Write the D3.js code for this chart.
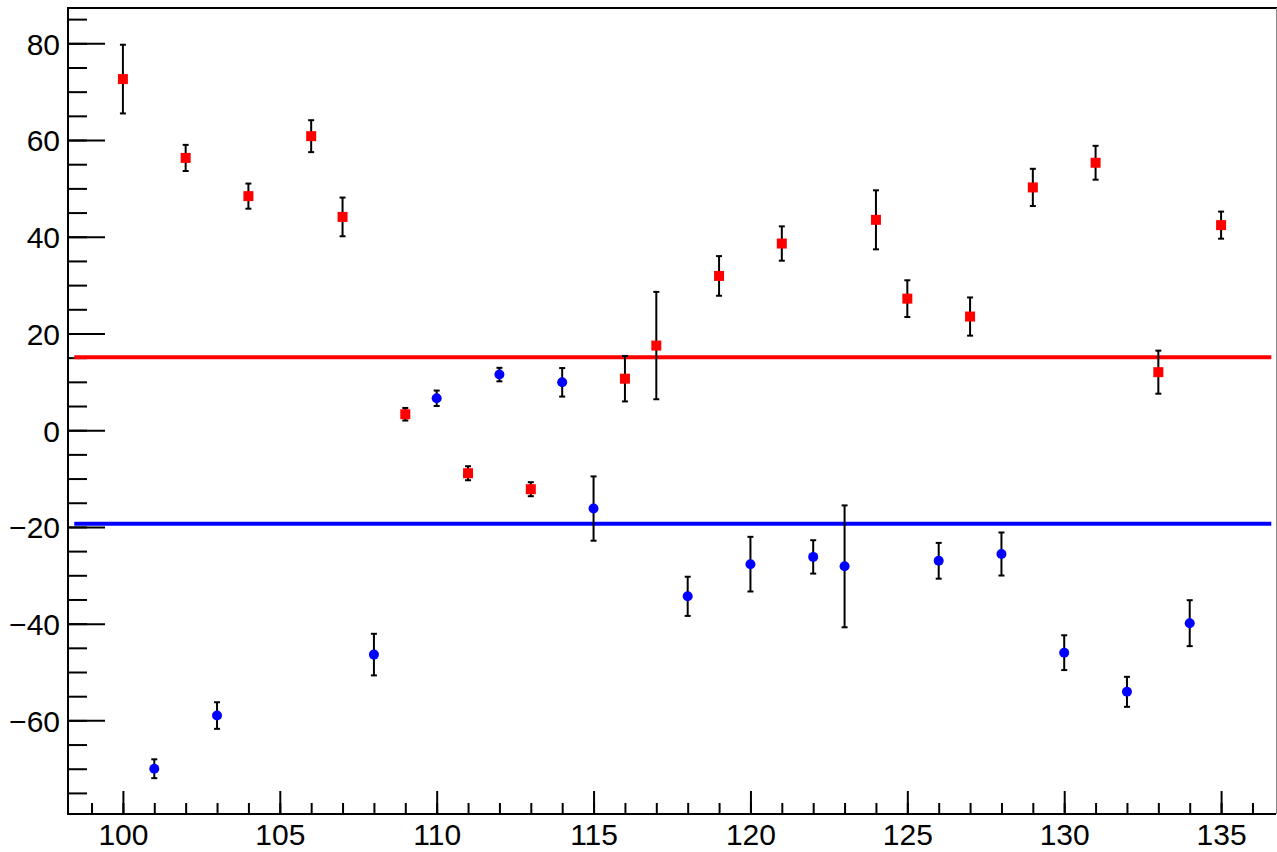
<!DOCTYPE html>
<html>
<head>
<meta charset="utf-8">
<script src="https://cdn.jsdelivr.net/npm/d3@7"></script>
<style>
html,body{margin:0;padding:0;background:#fff;}
svg{display:block;}
text{font-family:"Liberation Sans",Arial,sans-serif;}
</style>
</head>
<body>
<svg id="chart" width="1277" height="852"></svg>
<script>
// ---- data ----
const redX   = [100,102,104,106,107,109,111,113,116,117,119,121,124,125,127,129,131,133,135];
const redY   = [72.6,56.3,48.4,60.8,44.1,3.3,-8.9,-12.2,10.65,17.5,31.9,38.6,43.5,27.2,23.5,50.2,55.3,12.0,42.4];
const redErr = [7.1,2.7,2.6,3.3,4.0,1.3,1.45,1.45,4.7,11.1,4.1,3.55,6.1,3.8,3.95,3.85,3.5,4.45,2.8];

const blueX   = [101,103,108,110,112,114,115,118,120,122,123,126,128,130,132,134];
const blueY   = [-70.0,-59.0,-46.4,6.6,11.5,9.9,-16.2,-34.35,-27.7,-26.2,-28.15,-27.0,-25.6,-46.0,-54.1,-39.9];
const blueErr = [1.95,2.75,4.3,1.6,1.4,2.95,6.65,4.05,5.65,3.45,12.6,3.7,4.45,3.6,3.1,4.75];

const redLevel = 15.07;
const blueLevel = -19.35;
const levelRange = [98.45, 136.6];

const xMajorTicks = [100,105,110,115,120,125,130,135];
const xMinorTicks = d3.range(99,137,1);
const yMajorTicks = [-60,-40,-20,0,20,40,60,80];
const yMinorTicks = d3.range(-75,90,5);

// ---- layout ----
const L = 68, R = 1276, T = 8, B = 814;
const x = d3.scaleLinear().domain([98.25,136.75]).range([L,R]);
const y = d3.scaleLinear().domain([-79.36,87.3]).range([B,T]);

const svg = d3.select("#chart");
const fmt = d => (d < 0 ? "\u2212" + Math.abs(d) : String(d));

// minor ticks
svg.append("g").attr("transform",`translate(${L},0)`)
  .call(d3.axisLeft(y).tickValues(yMinorTicks).tickSize(-19).tickFormat(""))
  .call(g => g.select(".domain").remove())
  .call(g => g.selectAll("line").attr("stroke","#000").attr("stroke-width",2));
svg.append("g").attr("transform",`translate(0,${B})`)
  .call(d3.axisBottom(x).tickValues(xMinorTicks).tickSize(-11).tickFormat(""))
  .call(g => g.select(".domain").remove())
  .call(g => g.selectAll("line").attr("stroke","#000").attr("stroke-width",2));

// major ticks + labels
svg.append("g").attr("transform",`translate(${L},0)`)
  .call(d3.axisLeft(y).tickValues(yMajorTicks).tickSize(-37).tickPadding(8).tickFormat(fmt))
  .call(g => g.select(".domain").remove())
  .call(g => g.selectAll("line").attr("stroke","#000").attr("stroke-width",2))
  .call(g => g.selectAll("text").attr("font-size",30).attr("fill","#000")
      .attr("font-family","'Liberation Sans',Arial,sans-serif").attr("dy","0.36em"));
svg.append("g").attr("transform",`translate(0,${B})`)
  .call(d3.axisBottom(x).tickValues(xMajorTicks).tickSize(-23).tickPadding(10).tickFormat(fmt))
  .call(g => g.select(".domain").remove())
  .call(g => g.selectAll("line").attr("stroke","#000").attr("stroke-width",2))
  .call(g => g.selectAll("text").attr("font-size",30).attr("fill","#000")
      .attr("font-family","'Liberation Sans',Arial,sans-serif").attr("dy","0.71em"));

// frame
svg.append("line").attr("x1",L).attr("x2",L).attr("y1",T-1).attr("y2",B+1).attr("stroke","#000").attr("stroke-width",2);
svg.append("line").attr("x1",L-1).attr("x2",R).attr("y1",B).attr("y2",B).attr("stroke","#000").attr("stroke-width",2);
svg.append("line").attr("x1",L-1).attr("x2",R+1).attr("y1",T).attr("y2",T).attr("stroke","#000").attr("stroke-width",2);
svg.append("line").attr("x1",R+0.5).attr("x2",R+0.5).attr("y1",T).attr("y2",B).attr("stroke","#888").attr("stroke-width",1);

// horizontal levels
svg.append("line").attr("x1",x(levelRange[0])).attr("x2",x(levelRange[1]))
  .attr("y1",y(redLevel)).attr("y2",y(redLevel)).attr("stroke","#ff0000").attr("stroke-width",4);
svg.append("line").attr("x1",x(levelRange[0])).attr("x2",x(levelRange[1]))
  .attr("y1",y(blueLevel)).attr("y2",y(blueLevel)).attr("stroke","#0000ff").attr("stroke-width",4);

function drawSeries(xs, ys, es, shape, color){
  const data = xs.map((v,i)=>({x:v,y:ys[i],e:es[i]}));
  const g = svg.append("g");
  const eb = g.selectAll("g.eb").data(data).join("g");
  eb.append("line").attr("x1",d=>x(d.x)).attr("x2",d=>x(d.x))
    .attr("y1",d=>y(d.y+d.e)).attr("y2",d=>y(d.y-d.e)).attr("stroke","#000").attr("stroke-width",2);
  eb.append("line").attr("x1",d=>x(d.x)-3).attr("x2",d=>x(d.x)+3)
    .attr("y1",d=>y(d.y+d.e)).attr("y2",d=>y(d.y+d.e)).attr("stroke","#000").attr("stroke-width",2);
  eb.append("line").attr("x1",d=>x(d.x)-3).attr("x2",d=>x(d.x)+3)
    .attr("y1",d=>y(d.y-d.e)).attr("y2",d=>y(d.y-d.e)).attr("stroke","#000").attr("stroke-width",2);
  if(shape==="square"){
    g.selectAll("rect").data(data).join("rect")
      .attr("x",d=>x(d.x)-5).attr("y",d=>y(d.y)-5).attr("width",10).attr("height",10).attr("fill",color);
  } else {
    g.selectAll("circle").data(data).join("circle")
      .attr("cx",d=>x(d.x)).attr("cy",d=>y(d.y)).attr("r",5).attr("fill",color);
  }
}
drawSeries(redX, redY, redErr, "square", "#ff0000");
drawSeries(blueX, blueY, blueErr, "circle", "#0000ff");
</script>
</body>
</html>
